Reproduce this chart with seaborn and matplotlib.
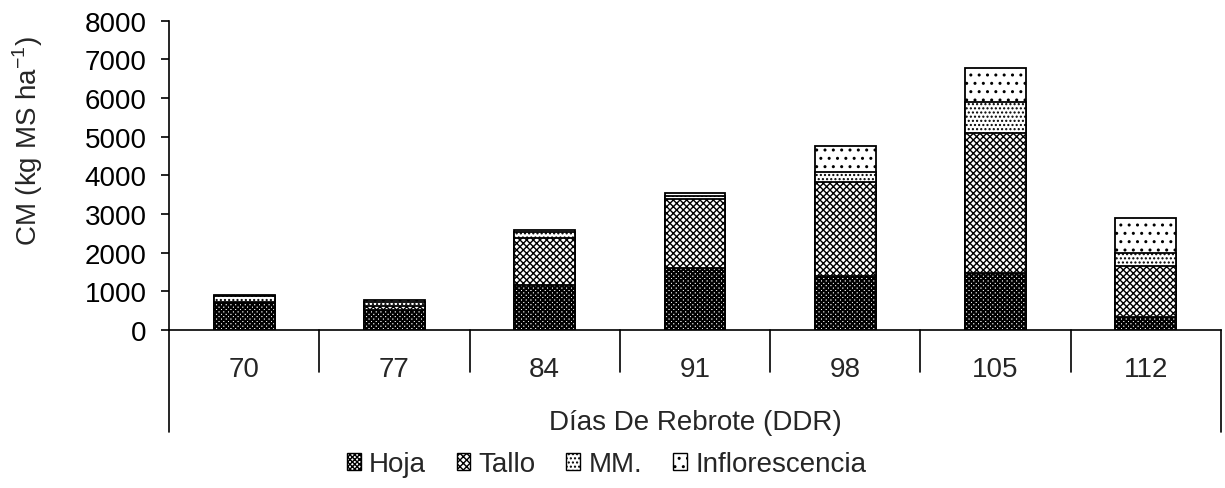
import matplotlib
matplotlib.use('Agg')
import matplotlib.pyplot as plt
import matplotlib.patches as mpatches
import numpy as np
import pandas as pd
import seaborn as sns

# values (kg MS/ha)
ddr = ['70', '77', '84', '91', '98', '105', '112']
hoja = [690, 530, 1160, 1610, 1400, 1470, 330]
tallo = [40, 100, 1220, 1780, 2430, 3620, 1330]
mm = [140, 90, 165, 70, 260, 810, 340]
inflorescencia = [30, 50, 50, 80, 670, 880, 900]

series = ['Hoja', 'Tallo', 'MM.', 'Inflorescencia']
hatches = ['xxxxxxx', 'xxxxx', '....', '..']
hatch_lw = [1.5, 1.0, 1.0, 1.0]

sns.set_theme(style='white')
plt.rcParams['font.family'] = ['Liberation Sans', 'DejaVu Sans']
plt.rcParams['mathtext.fontset'] = 'custom'
plt.rcParams['mathtext.rm'] = 'Liberation Sans'
FS = 20

df = pd.DataFrame({'ddr': ddr, 'Hoja': hoja, 'Tallo': tallo,
                   'MM.': mm, 'Inflorescencia': inflorescencia})
cum = df[series].cumsum(axis=1)

fig = plt.figure(figsize=(12.25, 4.89), dpi=100)
ax = fig.add_axes([0.138, 0.323, 0.8587, 0.6327])

# stacked bars: draw the tallest cumulative first, then cover with lower ones
for name, h, hl in reversed(list(zip(series, hatches, hatch_lw))):
    with plt.rc_context({'hatch.linewidth': hl}):
        sns.barplot(x=df['ddr'], y=cum[name], color='white', saturation=1,
                    edgecolor='black', linewidth=1.3, hatch=h, width=0.405,
                    ax=ax, errorbar=None)

ax.set_xlim(-0.5, len(ddr) - 0.5)
ax.set_ylim(0, 8000)
ax.set_yticks(np.arange(0, 8001, 1000))
ax.tick_params(axis='y', labelsize=FS, length=6, width=1.2, pad=10,
               left=True, colors='black')
ax.set_xticks([])
ax.set_xlabel('')
ax.set_ylabel('')
for s in ['top', 'right']:
    ax.spines[s].set_visible(False)
for s in ['left', 'bottom']:
    ax.spines[s].set_color('black')
    ax.spines[s].set_linewidth(1.2)

# two-level category axis (Excel style)
tr = ax.get_xaxis_transform()
for i in range(len(ddr) + 1):
    xb = i - 0.5
    low = -0.33 if i in (0, len(ddr)) else -0.136
    ax.plot([xb, xb], [0, low], transform=tr, clip_on=False,
            color='black', lw=1.2)
for i, lab in enumerate(ddr):
    ax.text(i, -0.148, lab, transform=tr, ha='center', va='baseline',
            fontsize=FS)
ax.text((len(ddr) - 1) / 2, -0.32, 'Días De Rebrote (DDR)', transform=tr,
        ha='center', va='baseline', fontsize=FS)

fig.text(0.023, 0.712, 'CM (kg MS ha$^{\\mathregular{-1}}$)', rotation=90,
         ha='center', va='center', fontsize=FS)

handles = []
for n, h, hl in zip(series, hatches, hatch_lw):
    with plt.rc_context({'hatch.linewidth': hl}):
        handles.append(mpatches.Patch(facecolor='white', edgecolor='black',
                                      hatch=h, label=n))
fig.legend(handles=handles, loc='center', bbox_to_anchor=(0.495, 0.049),
           ncol=4, frameon=False, fontsize=FS, handlelength=0.5,
           handleheight=0.55, handletextpad=0.3, columnspacing=1.1)

fig.savefig('out.png', dpi=100)
